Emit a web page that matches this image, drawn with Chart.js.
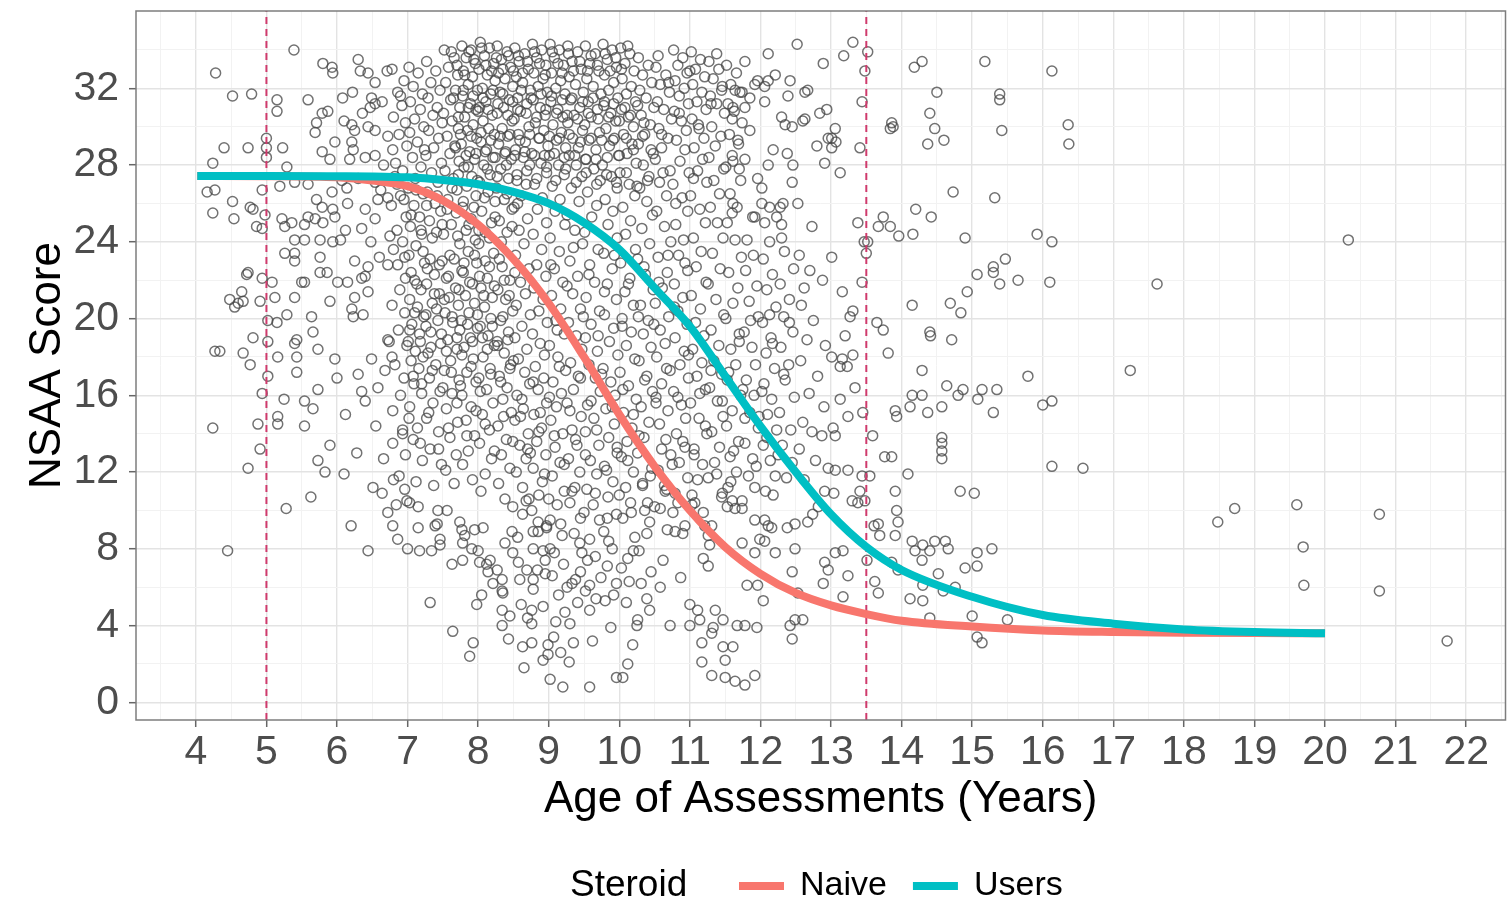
<!DOCTYPE html>
<html>
<head>
<meta charset="utf-8">
<title>NSAA Score by Age</title>
<script src="https://cdn.jsdelivr.net/npm/chart.js@4.4.1/dist/chart.umd.min.js"></script>
<style>
  html, body { margin: 0; padding: 0; background: #fff; }
</style>
</head>
<body>
<canvas id="nsaa" width="1512" height="916"></canvas>
<script>
// axis breaks
const xTickYears = [4, 5, 6, 7, 8, 9, 10, 11, 12, 13, 14, 15, 16, 17, 18, 19, 20, 21, 22];
const yTickScores = [0, 4, 8, 12, 16, 20, 24, 28, 32];
const xRange = [3.152, 22.557];
const yRange = [-0.92, 36.03];

// dashed reference ages
const cutoffAges = [5, 13.5];

// fitted curves per steroid group
const curveAges = [4.02, 5, 6, 6.5, 7, 7.5, 8, 8.5, 9, 9.5, 10, 10.5, 11, 11.5, 12, 12.5, 13, 13.5, 14, 15, 16, 17, 18, 19, 20];
const naiveFit = [27.43, 27.42, 27.36, 27.2, 26.9, 26.15, 24.9, 23.1, 20.8, 18.0, 15.0, 12.3, 10.0, 8.1, 6.7, 5.7, 5.05, 4.6, 4.25, 3.95, 3.75, 3.67, 3.63, 3.61, 3.6];
const usersFit = [27.43, 27.43, 27.42, 27.41, 27.36, 27.22, 27.0, 26.6, 26.0, 25.0, 23.6, 21.6, 19.6, 17.0, 14.4, 12.0, 9.8, 8.1, 6.9, 5.5, 4.55, 4.1, 3.8, 3.66, 3.6];
const groupNames = ['Naive', 'Users'];
const groupColors = ['#F8766D', '#00BFC4'];

// individual assessments: [age in years, NSAA score]
const assessments = [
  // 4 - 5 years
  [4.28,32.8],[4.52,31.6],[4.79,31.7],[4.4,28.9],[4.74,28.9],[4.24,28.1],[4.16,26.6],[4.27,26.7],[4.52,26.1],[4.77,25.8],
  [4.81,25.7],[4.24,25.5],[4.54,25.2],[4.94,26.7],[4.86,24.8],[4.94,24.7],[4.27,18.3],[4.34,18.3],[4.24,14.3],[4.48,21.0],
  [4.55,20.6],[4.65,21.4],[4.67,20.9],[4.74,22.4],[4.91,20.9],[4.94,22.1],[4.67,18.2],[4.77,17.6],[4.81,19.0],[4.88,14.5],
  [4.91,13.2],[4.74,12.2],[4.94,16.1],[4.45,7.9],[5.0,29.4],[5.0,28.9],[5.0,28.4],[4.98,25.4],[4.72,22.3],[4.6,20.8],
  // 5 - 6 years
  [5.15,31.4],[5.15,30.8],[5.39,34.0],[5.23,28.9],[5.29,27.9],[5.19,26.9],[5.59,31.4],[5.79,30.7],[5.87,30.8],[5.71,30.2],
  [5.69,29.7],[5.8,33.3],[5.93,33.1],[5.94,32.8],[5.02,17.0],[5.02,19.9],[5.15,19.8],[5.08,21.9],[5.12,21.1],[5.02,18.8],
  [5.16,18.0],[5.16,14.9],[5.16,14.5],[5.25,15.8],[5.43,18.0],[5.43,17.2],[5.54,15.7],[5.54,14.4],[5.66,15.3],[5.73,16.3],
  [5.73,12.6],[5.83,12.0],[5.29,20.2],[5.4,21.1],[5.43,18.9],[5.4,18.7],[5.64,20.1],[5.66,19.3],[5.73,18.4],[5.4,23.4],
  [5.4,23.0],[5.26,23.4],[5.76,23.2],[5.76,22.4],[5.86,22.4],[5.5,21.9],[5.54,21.9],[5.9,20.9],[5.28,10.1],[5.63,10.7],
  [5.97,17.9],[5.9,13.4],[5.4,27.1],[5.59,27.0],[5.71,26.2],[5.79,25.8],[5.93,26.6],[5.94,25.7],[5.79,28.7],[5.97,29.2],
  [5.9,28.3],[5.59,25.3],[5.54,24.9],[5.69,25.2],[5.8,25.0],[5.4,24.1],[5.54,24.1],[5.76,24.1],[5.94,24.0],[5.26,24.8],
  [5.36,25.0],[5.22,25.2],[5.97,25.3],
  // 6 - 6.75 years
  [6.15,26.0],[6.14,26.8],[6.07,27.2],[6.35,24.7],[6.54,25.2],[6.4,25.7],[6.21,30.1],[6.25,29.8],[6.44,30.0],[6.54,29.8],
  [6.21,29.2],[6.23,28.8],[6.4,28.4],[6.54,28.5],[6.72,29.5],[6.54,27.1],[6.72,26.3],[6.58,26.2],[6.0,16.9],[6.28,13.0],
  [6.4,15.7],[6.3,17.1],[6.49,17.9],[6.68,17.3],[6.78,18.0],[6.21,20.5],[6.23,20.1],[6.37,20.2],[6.25,21.1],[6.44,21.4],
  [6.4,22.2],[6.44,22.7],[6.35,22.1],[6.72,18.9],[6.74,18.8],[6.79,13.5],[6.72,22.8],[6.2,9.2],[6.44,7.9],[6.72,9.9],
  [6.15,21.9],[6.01,21.9],[6.3,33.5],[6.33,32.9],[6.44,32.8],[6.71,32.9],[6.54,32.3],[6.22,31.8],[6.08,31.5],[6.49,31.5],
  [6.54,31.2],[6.64,31.3],[6.47,31.0],[6.05,24.1],[6.25,23.0],[6.6,23.2],[6.12,24.6],[6.48,24.0],[6.75,24.3],[6.62,26.7],
  [6.3,27.3],[6.18,28.3],[6.66,28.0],[6.1,30.3],[6.36,30.7],[6.12,15.0],[6.55,14.4],[6.66,12.7],[6.51,11.2],[6.64,10.9],
  [6.35,16.2],[6.1,11.9],[6.58,16.4],
  // 6.75 - 7.5 years
  [6.79,28.8],[6.82,27.4],[6.93,27.7],[6.93,14.2],[6.93,14.0],[6.86,22.8],[6.96,23.2],[6.79,9.2],[6.86,8.5],[6.99,10.5],
  [6.78,33.0],[6.95,32.4],[6.86,31.8],[6.92,31.1],[6.8,30.5],[6.97,30.2],[6.88,29.6],[6.99,29.0],[6.83,28.1],[6.9,26.4],
  [6.77,25.9],[6.98,25.3],[6.85,24.6],[6.93,24.0],[6.8,23.6],[6.97,22.1],[6.89,21.5],[6.78,20.7],[6.96,20.3],[6.87,19.4],
  [6.99,18.6],[6.82,17.6],[6.95,16.9],[6.9,16.0],[6.79,15.2],[6.97,12.9],[6.88,11.8],[6.96,11.1],[6.84,10.3],[6.85,27.0],
  [6.9,31.6],[6.8,11.6],
  [7.02,33.1],[7.15,32.8],[7.08,32.1],[7.21,31.7],[7.04,31.3],[7.18,30.9],[7.1,30.4],[7.23,30.0],[7.03,29.7],[7.14,29.2],
  [7.24,28.8],[7.07,28.4],[7.19,27.9],[7.11,27.3],[7.01,26.8],[7.22,26.5],[7.09,25.9],[7.17,25.3],[7.04,24.8],[7.2,24.4],
  [7.12,23.8],[7.02,23.3],[7.24,22.9],[7.1,22.0],[7.19,21.5],[7.03,21.0],[7.14,20.6],[7.23,20.1],[7.06,19.7],[7.17,19.2],
  [7.01,18.8],[7.11,18.3],[7.22,18.0],[7.05,17.8],[7.16,17.4],[7.09,16.6],[7.2,16.1],[7.03,15.4],[7.14,14.3],[7.08,13.7],
  [7.21,12.6],[7.12,11.5],[7.03,10.4],[7.15,10.2],[7.0,8.0],[7.15,9.1],[7.17,7.9],
  [7.27,33.4],[7.4,32.9],[7.33,32.3],[7.46,31.9],[7.29,31.5],[7.42,31.0],[7.36,30.6],[7.49,30.2],[7.3,29.8],[7.44,29.4],
  [7.37,28.9],[7.26,28.5],[7.48,28.1],[7.34,27.6],[7.43,27.1],[7.28,26.6],[7.39,26.0],[7.47,25.6],[7.31,25.1],[7.41,24.5],
  [7.32,23.1],[7.49,23.0],[7.38,22.3],[7.27,21.8],[7.45,21.3],[7.35,20.8],[7.26,20.2],[7.43,19.9],[7.33,19.3],[7.47,18.7],
  [7.29,18.2],[7.4,17.6],[7.31,16.9],[7.46,16.2],[7.36,15.6],[7.27,14.8],[7.44,14.1],[7.32,13.2],[7.48,12.4],[7.37,11.3],
  [7.34,7.9],[7.42,9.3],[7.39,9.2],[7.32,5.2],[7.43,10.0],[7.46,8.5],[7.46,8.2],
  // 7.5 - 8.5 years
  [7.52,34.0],[7.66,33.6],[7.58,33.1],[7.71,32.7],[7.54,32.3],[7.68,31.9],[7.61,31.4],[7.74,31.0],[7.51,30.7],[7.63,30.3],
  [7.72,29.9],[7.56,29.5],[7.67,29.0],[7.6,28.6],[7.73,28.2],[7.53,27.7],[7.65,27.3],[7.7,26.7],[7.57,26.2],[7.69,25.5],
  [7.62,24.9],[7.51,24.4],[7.74,23.9],[7.6,23.3],[7.77,22.5],[7.55,22.1],[7.68,21.6],[7.59,21.1],[7.72,20.7],[7.53,20.3],
  [7.64,19.8],[7.74,19.4],[7.57,18.9],[7.7,18.4],[7.61,17.8],[7.52,17.3],[7.73,16.8],[7.63,16.1],[7.55,15.3],[7.71,14.6],
  [7.6,13.8],[7.69,12.9],[7.54,12.1],[7.66,11.4],[7.56,10.0],[7.63,7.2],[7.64,3.7],
  [7.77,34.2],[7.9,34.0],[7.83,33.6],[7.96,33.3],[7.79,32.9],[7.92,32.6],[7.86,32.2],[7.99,31.9],[7.78,31.6],[7.89,31.2],
  [7.97,30.9],[7.81,30.5],[7.93,30.1],[7.85,29.8],[7.98,29.4],[7.76,29.1],[7.88,28.7],[7.95,28.3],[7.8,27.9],[7.91,27.4],
  [7.84,26.9],[7.97,26.4],[7.78,25.8],[7.9,25.2],[7.83,24.6],[7.96,24.1],[7.86,23.5],[7.98,22.9],[7.79,22.4],[7.92,21.8],
  [7.82,21.2],[7.95,20.8],[7.87,20.3],[7.76,19.9],[7.99,19.5],[7.89,19.0],[7.8,18.5],[7.93,17.9],[7.84,17.2],[7.97,16.7],
  [7.77,16.0],[7.9,15.4],[7.83,14.7],[7.95,13.9],[7.86,13.1],[7.78,12.4],[7.92,11.6],[7.74,9.4],[7.77,9.0],[7.81,8.7],
  [7.95,9.0],[7.78,8.3],[7.91,8.0],[7.78,7.4],[7.93,3.1],[7.88,2.4],[7.98,5.1],
  [8.03,34.4],[8.16,34.1],[8.09,33.7],[8.22,33.3],[8.01,33.0],[8.13,32.7],[8.24,32.4],[8.06,32.0],[8.18,31.7],[8.11,31.3],
  [8.02,31.0],[8.2,30.6],[8.07,30.3],[8.15,29.9],[8.23,29.6],[8.04,29.2],[8.12,28.8],[8.21,28.4],[8.08,28.0],[8.17,27.5],
  [8.02,27.1],[8.14,26.6],[8.24,26.1],[8.05,25.6],[8.19,25.0],[8.1,24.5],[8.01,23.9],[8.22,23.4],[8.1,23.0],[8.13,22.1],
  [8.04,21.6],[8.2,21.1],[8.09,20.6],[8.18,20.0],[8.03,19.6],[8.14,19.1],[8.23,18.6],[8.07,18.0],[8.17,17.4],[8.01,16.9],
  [8.12,16.3],[8.21,15.6],[8.06,15.0],[8.16,14.2],[8.02,13.5],[8.19,12.7],[8.1,11.9],[8.04,11.0],[8.07,9.1],[8.0,7.9],
  [8.02,7.3],[8.12,7.2],[8.17,7.4],[8.14,6.8],[8.21,6.2],
  [8.27,34.2],[8.41,33.9],[8.33,33.5],[8.46,33.1],[8.29,32.8],[8.38,32.5],[8.49,32.1],[8.31,31.8],[8.44,31.4],[8.36,31.0],
  [8.27,30.7],[8.48,30.3],[8.34,29.9],[8.42,29.5],[8.29,29.1],[8.39,28.7],[8.47,28.3],[8.32,27.8],[8.43,27.3],[8.26,26.8],
  [8.37,26.2],[8.48,25.7],[8.3,25.1],[8.41,24.5],[8.34,22.7],[8.45,22.0],[8.28,21.5],[8.39,21.0],[8.49,20.4],[8.32,19.9],
  [8.43,19.3],[8.27,18.8],[8.37,18.2],[8.46,17.6],[8.3,17.0],[8.41,16.4],[8.35,15.8],[8.47,15.1],[8.28,14.4],[8.4,13.7],
  [8.33,12.9],[8.45,12.2],[8.29,11.4],[8.38,10.6],[8.34,6.4],[8.34,5.8],[8.35,5.7],[8.38,8.3],[8.48,8.9],[8.49,7.8],
  [8.49,10.2],[8.34,4.8],[8.45,4.5],[8.34,4.0],
  // 8.5 - 9.5 years
  [8.52,34.1],[8.66,33.8],[8.58,33.4],[8.71,33.0],[8.54,32.6],[8.63,32.3],[8.74,31.9],[8.56,31.5],[8.69,31.2],[8.6,30.8],
  [8.51,30.4],[8.72,30.0],[8.57,29.6],[8.67,29.2],[8.53,28.8],[8.64,28.4],[8.73,28.0],[8.55,27.5],[8.68,27.0],[8.61,26.4],
  [8.51,25.8],[8.7,25.2],[8.58,24.6],[8.65,23.9],[8.53,23.3],[8.72,22.6],[8.6,21.9],[8.67,21.3],[8.54,20.7],[8.74,20.2],
  [8.62,19.6],[8.52,19.0],[8.69,18.4],[8.57,17.9],[8.66,17.2],[8.73,16.6],[8.55,16.0],[8.64,15.3],[8.52,14.7],[8.71,14.0],
  [8.59,13.4],[8.68,12.7],[8.54,12.0],[8.63,11.2],[8.72,10.6],[8.59,6.4],[8.69,6.9],[8.63,9.8],[8.63,2.9],[8.56,8.6],
  [8.61,5.1],
  [8.77,34.3],[8.9,34.0],[8.83,33.6],[8.96,33.2],[8.79,32.8],[8.92,32.5],[8.85,32.1],[8.98,31.8],[8.78,31.4],[8.88,31.0],
  [8.95,30.6],[8.81,30.2],[8.93,29.8],[8.86,29.4],[8.99,29.0],[8.76,28.6],[8.89,28.1],[8.97,27.6],[8.8,27.0],[8.91,26.3],
  [8.84,25.7],[8.97,25.0],[8.78,24.4],[8.9,23.6],[8.83,22.8],[8.96,22.2],[8.79,21.6],[8.92,21.0],[8.86,20.4],[8.98,19.8],
  [8.77,19.2],[8.88,18.7],[8.94,18.1],[8.81,17.5],[8.93,16.9],[8.85,16.3],[8.97,15.6],[8.79,15.0],[8.9,14.3],[8.83,13.6],
  [8.96,12.9],[8.78,12.2],[8.91,11.5],[8.86,10.8],[8.76,10.0],[8.78,8.9],[8.85,8.9],[8.97,9.2],[8.97,9.1],[8.78,8.0],
  [8.92,7.9],[8.95,7.4],[8.95,6.7],[8.78,6.4],[8.78,5.9],[8.76,4.8],[8.76,4.1],[8.92,5.0],[8.76,3.1],[8.99,3.0],
  [8.99,2.5],[8.92,2.2],
  [9.02,34.3],[9.15,34.0],[9.08,33.6],[9.21,33.2],[9.04,32.8],[9.17,32.4],[9.1,32.0],[9.23,31.7],[9.03,31.3],[9.13,30.9],
  [9.2,30.5],[9.06,30.1],[9.18,29.7],[9.11,29.3],[9.24,28.9],[9.01,28.5],[9.14,28.0],[9.22,27.5],[9.05,26.9],[9.16,26.2],
  [9.09,25.6],[9.23,24.9],[9.02,24.2],[9.15,23.5],[9.08,22.6],[9.2,21.9],[9.04,21.2],[9.17,20.5],[9.1,19.9],[9.22,19.2],
  [9.01,18.6],[9.13,18.0],[9.24,17.3],[9.06,16.7],[9.18,16.1],[9.11,15.4],[9.03,14.7],[9.2,14.0],[9.09,13.3],[9.16,12.5],
  [9.05,11.8],[9.22,11.0],[9.12,10.3],[9.02,9.5],[9.19,8.7],[9.08,7.8],[9.02,8.0],[9.02,1.2],[9.2,0.8],[9.14,5.6],
  [9.23,4.7],[9.07,3.4],[9.17,2.6],
  [9.27,34.2],[9.41,33.9],[9.33,33.4],[9.46,33.0],[9.29,32.6],[9.38,32.2],[9.49,31.8],[9.31,31.4],[9.44,31.0],[9.36,30.6],
  [9.27,30.2],[9.48,29.8],[9.34,29.4],[9.42,28.9],[9.29,28.5],[9.39,28.0],[9.47,27.4],[9.32,26.8],[9.43,26.1],[9.26,25.4],
  [9.37,24.6],[9.48,23.9],[9.3,23.0],[9.41,22.2],[9.34,21.3],[9.45,20.5],[9.28,19.8],[9.39,19.1],[9.47,18.4],[9.31,17.7],
  [9.42,17.0],[9.35,16.3],[9.26,15.6],[9.46,14.9],[9.33,14.2],[9.4,13.4],[9.28,12.7],[9.44,12.0],[9.37,11.2],[9.3,10.4],
  [9.45,9.6],[9.36,8.8],[9.47,7.8],[9.3,4.1],[9.26,6.0],[9.33,6.2],[9.41,5.2],[9.29,2.1],
  // 9.5 - 10.5 years
  [9.52,34.2],[9.66,33.8],[9.58,33.3],[9.71,32.9],[9.54,32.5],[9.63,32.1],[9.74,31.7],[9.56,31.3],[9.69,30.9],[9.6,30.5],
  [9.51,30.1],[9.72,29.7],[9.57,29.3],[9.67,28.8],[9.53,28.3],[9.64,27.8],[9.73,27.2],[9.55,26.6],[9.68,25.9],[9.61,25.3],
  [9.51,24.5],[9.7,23.6],[9.58,22.8],[9.65,21.9],[9.53,21.1],[9.72,20.4],[9.6,19.7],[9.52,19.0],[9.69,18.3],[9.57,17.6],
  [9.66,16.9],[9.73,16.2],[9.55,15.5],[9.64,14.8],[9.52,14.1],[9.71,13.4],[9.59,12.6],[9.68,11.9],[9.54,11.1],[9.63,10.3],
  [9.72,9.5],[9.58,8.5],[9.55,7.4],[9.58,6.1],[9.58,4.8],[9.58,0.8],[9.67,5.4],[9.62,3.2],
  [9.77,34.3],[9.9,34.0],[9.83,33.5],[9.96,33.1],[9.79,32.7],[9.92,32.3],[9.85,31.9],[9.98,31.5],[9.78,31.1],[9.88,30.7],
  [9.95,30.3],[9.81,29.9],[9.93,29.4],[9.86,29.0],[9.99,28.5],[9.76,28.0],[9.89,27.4],[9.97,26.8],[9.8,26.2],[9.91,25.6],
  [9.84,24.9],[9.97,24.2],[9.78,23.4],[9.9,22.6],[9.83,21.8],[9.96,21.0],[9.79,20.2],[9.92,19.5],[9.86,18.8],[9.98,18.1],
  [9.77,17.4],[9.88,16.7],[9.94,16.0],[9.81,15.3],[9.93,14.5],[9.85,13.8],[9.97,13.0],[9.79,12.3],[9.91,11.5],[9.84,10.7],
  [9.96,9.8],[9.78,8.9],[9.9,8.0],[9.83,7.1],[9.96,6.2],[9.8,5.3],[9.96,1.3],[9.88,3.9],
  [10.02,34.1],[10.15,33.8],[10.08,33.3],[10.21,32.9],[10.04,32.5],[10.17,32.1],[10.1,31.7],[10.23,31.3],[10.03,30.9],[10.13,30.5],
  [10.2,30.0],[10.06,29.6],[10.18,29.1],[10.11,28.6],[10.24,28.1],[10.01,27.6],[10.14,27.0],[10.22,26.4],[10.05,25.8],[10.16,25.1],
  [10.09,24.4],[10.23,23.6],[10.02,22.9],[10.15,22.1],[10.08,21.4],[10.2,20.7],[10.04,20.0],[10.17,19.3],[10.1,18.6],[10.22,17.9],
  [10.01,17.2],[10.13,16.5],[10.24,15.8],[10.06,15.1],[10.18,14.3],[10.11,13.6],[10.03,12.8],[10.2,12.0],[10.09,11.2],[10.16,10.4],
  [10.05,9.6],[10.22,8.6],[10.12,7.5],[10.05,1.3],[10.12,2.0],[10.19,3.0],[10.25,4.0],[10.14,6.3],
  [10.27,33.6],[10.41,33.2],[10.33,32.7],[10.46,32.3],[10.29,31.9],[10.38,31.5],[10.49,31.0],[10.31,30.6],[10.44,30.1],[10.36,29.6],
  [10.27,29.1],[10.48,28.6],[10.34,28.0],[10.42,27.4],[10.29,26.8],[10.39,26.1],[10.47,25.4],[10.32,24.7],[10.43,23.9],[10.26,23.1],
  [10.37,22.3],[10.48,21.5],[10.3,20.7],[10.41,19.9],[10.34,19.2],[10.45,18.5],[10.28,17.8],[10.39,17.0],[10.47,16.2],[10.31,15.4],
  [10.42,14.6],[10.35,13.8],[10.26,13.0],[10.46,12.2],[10.33,11.3],[10.4,10.4],[10.36,10.0],[10.43,9.4],[10.39,5.4],[10.43,4.8],
  [10.26,4.3],[10.28,7.9],[10.45,6.8],
  // 10.5 - 11.5 years
  [10.52,33.1],[10.66,32.7],[10.58,32.2],[10.71,31.8],[10.54,31.3],[10.63,30.9],[10.74,30.4],[10.56,29.9],[10.69,29.4],[10.6,28.9],
  [10.51,28.3],[10.72,27.7],[10.57,27.1],[10.67,26.4],[10.53,25.6],[10.64,24.8],[10.73,24.0],[10.55,23.2],[10.68,22.4],[10.61,21.6],
  [10.51,20.8],[10.7,20.1],[10.58,19.4],[10.65,18.7],[10.53,18.0],[10.72,17.3],[10.6,16.6],[10.52,15.9],[10.69,15.2],[10.57,14.5],
  [10.66,13.7],[10.73,12.9],[10.55,12.1],[10.64,11.3],[10.65,11.0],[10.58,10.1],[10.76,9.9],[10.68,9.0],[10.72,4.0],[10.58,6.0],
  [10.62,7.4],
  [10.77,34.0],[10.9,33.6],[10.83,33.2],[10.96,32.8],[10.79,32.4],[10.92,32.0],[10.85,31.6],[10.98,31.2],[10.78,30.8],[10.88,30.3],
  [10.95,29.8],[10.81,29.3],[10.93,28.8],[10.86,28.2],[10.99,27.6],[10.76,27.0],[10.89,26.3],[10.97,25.6],[10.8,24.9],[10.91,24.1],
  [10.84,23.3],[10.97,22.5],[10.78,21.8],[10.9,21.1],[10.83,20.4],[10.96,19.7],[10.79,19.0],[10.92,18.3],[10.86,17.6],[10.98,16.9],
  [10.77,16.2],[10.88,15.5],[10.94,14.8],[10.81,14.0],[10.93,13.3],[10.85,12.5],[10.97,11.7],[10.79,10.9],[10.9,8.8],[10.79,8.9],
  [10.93,9.2],[11.0,4.0],[11.0,5.1],[10.87,6.5],
  [11.02,33.9],[11.15,33.5],[11.08,33.0],[11.21,32.6],[11.04,32.2],[11.17,31.8],[11.1,31.3],[11.23,30.9],[11.03,30.4],[11.13,29.9],
  [11.2,29.4],[11.06,28.9],[11.18,28.3],[11.11,27.7],[11.24,27.1],[11.01,26.4],[11.14,25.7],[11.22,25.0],[11.05,24.2],[11.16,23.5],
  [11.09,22.7],[11.23,21.9],[11.02,21.2],[11.15,20.5],[11.08,19.8],[11.2,19.1],[11.04,18.4],[11.17,17.7],[11.1,17.0],[11.22,16.3],
  [11.01,15.6],[11.13,14.8],[11.24,14.0],[11.06,13.2],[11.18,12.4],[11.11,11.6],[11.03,10.8],[11.07,10.4],[11.03,10.3],[11.19,9.9],
  [11.19,7.5],[11.11,4.8],[11.14,4.3],[11.17,3.1],[11.17,2.1],[11.21,9.2],
  [11.27,33.4],[11.41,33.0],[11.33,32.5],[11.46,32.1],[11.29,31.6],[11.38,31.2],[11.49,30.7],[11.31,30.0],[11.44,29.5],[11.36,29.0],
  [11.27,28.4],[11.48,27.8],[11.34,27.2],[11.42,26.5],[11.29,25.8],[11.39,25.0],[11.47,24.2],[11.32,23.4],[11.43,22.6],[11.26,21.8],
  [11.37,21.0],[11.48,20.2],[11.3,19.4],[11.41,18.6],[11.34,17.8],[11.45,17.1],[11.28,16.4],[11.39,15.7],[11.47,14.9],[11.31,14.1],
  [11.42,13.3],[11.35,12.5],[11.26,11.7],[11.46,10.9],[11.26,7.1],[11.28,8.2],[11.31,9.2],[11.26,8.7],[11.36,4.8],[11.33,3.9],
  [11.47,4.3],[11.31,3.6],[11.47,2.9],[11.31,1.4],[11.45,10.7],
  // 11.5 - 12.5 years
  [11.52,33.2],[11.66,32.8],[11.58,32.2],[11.71,31.8],[11.54,31.2],[11.63,30.8],[11.74,30.2],[11.56,29.6],[11.69,29.1],[11.6,28.5],
  [11.51,27.9],[11.72,27.2],[11.57,26.5],[11.67,25.8],[11.53,25.0],[11.64,24.1],[11.73,23.2],[11.55,22.4],[11.68,21.6],[11.61,20.8],
  [11.51,20.0],[11.7,19.2],[11.58,18.4],[11.65,17.6],[11.53,16.8],[11.72,16.0],[11.6,15.2],[11.52,14.4],[11.69,13.6],[11.57,12.8],
  [11.66,12.0],[11.54,11.2],[11.6,10.5],[11.64,10.1],[11.74,10.1],[11.53,10.2],[11.74,10.5],[11.74,8.3],[11.67,4.0],[11.61,2.9],
  [11.5,2.2],[11.5,1.3],[11.64,1.1],[11.6,25.5],[11.61,26.0],[11.61,31.0],[11.6,30.4],[11.68,29.3],[11.61,28.2],[11.7,27.8],
  [11.78,33.4],[11.92,32.2],[11.96,32.4],[11.85,31.5],[11.78,31.0],[11.85,29.8],[11.78,28.3],[11.96,27.3],[11.92,25.3],[11.89,25.3],
  [11.81,24.1],[11.9,23.3],[11.79,22.5],[11.95,21.7],[11.84,20.9],[11.97,20.1],[11.77,19.3],[11.88,18.5],[11.93,17.6],[11.8,16.8],
  [11.91,16.0],[11.85,15.1],[11.97,14.3],[11.78,13.5],[11.89,12.7],[11.83,11.8],[11.92,11.2],[11.92,9.5],[11.92,7.8],[11.99,8.5],
  [11.81,6.1],[11.96,6.1],[11.78,4.0],[11.95,3.9],[11.78,0.9],[11.92,1.4],[11.74,31.8],[11.64,31.9],[11.45,31.9],
  [12.11,33.8],[12.11,32.4],[12.06,32.1],[12.21,32.7],[12.06,31.3],[12.02,26.8],[12.02,26.0],[12.13,25.8],[12.06,25.0],[12.13,24.0],
  [12.11,28.0],[12.18,28.8],[12.23,25.3],[12.04,23.1],[12.17,22.3],[12.09,21.5],[12.22,20.6],[12.03,19.8],[12.15,19.0],[12.08,18.2],
  [12.2,17.4],[12.05,16.6],[12.16,15.8],[12.1,15.0],[12.23,14.2],[12.04,13.4],[12.14,12.6],[12.21,11.8],[12.07,11.0],[12.18,10.8],
  [12.11,9.2],[12.16,9.1],[12.06,9.5],[12.21,7.8],[12.06,8.4],[12.04,5.3],
  [12.3,30.5],[12.35,30.1],[12.45,30.0],[12.38,28.6],[12.46,28.0],[12.45,27.1],[12.32,26.0],[12.28,25.8],[12.3,24.9],[12.3,24.2],
  [12.42,32.4],[12.39,31.6],[12.34,23.5],[12.47,22.6],[12.28,21.8],[12.41,21.0],[12.33,20.1],[12.46,19.3],[12.29,18.5],[12.4,17.6],
  [12.35,16.8],[12.48,15.9],[12.27,15.1],[12.43,14.2],[12.31,13.4],[12.45,12.5],[12.37,11.7],[12.49,9.3],[12.38,9.1],[12.49,8.0],
  [12.45,6.8],[12.49,4.3],[12.45,3.3],[12.42,4.0],
  // 12.5 - 13.5 years
  [12.52,34.3],[12.89,33.3],[12.63,30.4],[12.6,30.3],[12.84,30.7],[12.94,30.9],[12.53,26.0],[12.63,31.8],[12.67,31.9],[12.73,24.8],
  [12.91,28.1],[12.8,29.0],[12.96,29.4],[12.55,23.3],[12.7,22.5],[12.62,21.6],[12.88,22.0],[12.58,20.7],[12.75,19.9],[12.66,18.9],
  [12.92,18.6],[12.57,17.8],[12.81,17.0],[12.69,16.1],[12.9,15.4],[12.6,14.6],[12.73,14.1],[12.87,13.9],[12.55,13.2],[12.78,12.6],
  [12.96,12.2],[12.62,11.6],[12.91,11.0],[12.67,9.4],[12.74,9.8],[12.82,10.2],[12.91,7.3],[12.96,6.9],[12.89,6.2],[12.6,4.3],
  [12.53,5.7],
  [13.31,34.4],[13.18,33.7],[13.48,32.9],[13.06,29.9],[13.01,29.4],[13.07,29.2],[13.01,28.9],[13.13,27.6],[13.44,31.3],[13.41,28.9],
  [13.38,25.0],[13.01,23.2],[13.5,23.4],[13.16,21.4],[13.44,21.9],[13.31,20.4],[13.27,20.1],[13.2,19.1],[13.31,18.1],[13.16,17.9],
  [13.01,18.0],[13.23,17.5],[13.13,17.5],[13.34,16.4],[13.13,15.8],[13.24,14.9],[13.45,15.1],[13.03,14.3],[13.06,13.9],[13.06,12.1],
  [13.24,12.1],[13.44,11.8],[13.41,11.0],[13.3,10.5],[13.38,10.4],[13.48,10.5],[13.06,7.8],[13.17,7.9],[13.24,6.6],[13.17,5.5],
  [13.04,10.9],[13.47,24.0],
  // 13.5 years and older
  [13.52,33.9],[13.86,30.2],[13.84,29.9],[13.88,30.0],[14.18,33.1],[14.29,33.4],[15.18,33.4],[16.13,32.9],[14.5,31.8],[15.39,31.7],
  [15.39,31.4],[14.4,30.7],[15.42,29.8],[14.47,29.9],[14.37,29.1],[14.6,29.3],[14.73,26.6],[15.32,26.3],[14.2,25.7],[14.42,25.3],
  [13.96,24.3],[14.16,24.4],[14.9,24.2],[15.92,24.4],[16.13,24.0],[13.74,25.3],[13.84,24.8],[13.67,24.8],[13.52,24.0],
  [15.47,23.1],[15.3,22.7],[15.3,22.4],[15.39,21.8],[15.07,22.3],[14.93,21.4],[15.65,22.0],[16.1,21.9],[14.69,20.8],[14.84,20.3],
  [14.15,20.7],[14.4,19.3],[14.41,19.1],[14.71,18.9],[13.65,19.8],[13.74,19.4],[13.81,18.2],[14.29,17.3],[15.79,17.0],[14.64,16.5],
  [14.87,16.3],[14.8,16.0],[15.14,16.3],[15.35,16.3],[15.08,15.8],[14.15,16.0],[14.29,16.0],[14.12,15.4],[14.37,15.1],[14.57,15.4],
  [15.3,15.1],[16.0,15.5],[16.13,15.7],[13.91,15.2],[13.93,14.9],[14.57,13.8],[14.57,13.5],[14.57,13.1],[14.57,12.7],[13.76,12.8],
  [13.86,12.8],[14.09,11.9],[16.13,12.3],[13.59,13.9],[17.62,21.8],[17.24,17.3],[16.57,12.2],[16.36,30.1],[16.37,29.1],[20.33,24.1],
  [14.83,11.0],[15.03,10.9],[13.91,11.0],[13.93,10.0],[13.95,9.4],[13.91,8.7],[13.69,8.7],[13.67,9.3],[13.61,9.2],[14.15,8.4],
  [14.3,8.2],[14.47,8.4],[14.62,8.4],[14.66,8.0],[14.19,7.9],[14.4,7.9],[14.29,7.4],[13.86,7.3],[13.95,6.9],[14.52,6.7],
  [14.3,6.1],[14.59,5.8],[14.76,6.0],[14.12,5.4],[14.3,5.3],[14.9,7.0],[15.07,7.1],[15.07,7.8],[15.28,8.0],[15.0,4.5],
  [15.5,4.3],[15.07,3.4],[15.14,3.1],[14.4,4.4],[13.51,7.4],[13.62,6.3],[13.67,5.7],[13.55,11.8],
  [18.48,9.4],[18.72,10.1],[19.6,10.3],[19.69,8.1],[19.7,6.1],[20.77,9.8],[20.77,5.8],[21.73,3.2],
  // crowded top band, 7.6 - 11.4 years
  [7.62,33.9],[7.7,33.2],[7.81,32.7],[7.87,33.9],[7.94,33.5],[8.05,34.1],[8.11,33.2],[8.19,32.9],[8.26,33.6],[8.35,33.0],
  [8.43,33.7],[8.5,32.9],[8.57,33.7],[8.63,32.8],[8.7,33.4],[8.8,33.9],[8.87,33.3],[8.95,32.7],[9.05,33.9],[9.13,33.3],
  [9.19,32.8],[9.28,33.8],[9.35,32.9],[9.44,33.4],[9.55,32.9],[9.6,33.7],[9.69,33.2],[9.8,33.8],[9.87,32.9],[9.95,33.6],
  [10.03,33.0],[10.12,34.2],
  [7.65,31.5],[7.72,30.5],[7.79,31.9],[7.86,31.0],[7.93,31.6],[8.0,30.8],[8.07,31.5],[8.14,30.9],[8.21,31.9],[8.28,31.2],
  [8.35,31.7],[8.42,30.6],[8.49,31.3],[8.56,30.9],[8.61,31.9],[8.68,30.7],[8.75,31.5],[8.83,30.5],[8.89,31.7],[8.96,30.9],
  [9.04,31.6],[9.11,30.7],[9.19,31.4],[9.26,30.6],[9.33,31.5],[9.41,30.4],[9.48,31.3],[9.56,30.7],[9.63,31.5],[9.7,30.4],
  [9.79,31.3],[9.85,30.5],[9.92,31.2],[10.0,30.3],[10.08,31.0],[10.16,30.6],[10.26,31.1],[10.35,30.2],
  [7.68,28.9],[7.75,29.6],[7.83,28.5],[7.9,29.5],[7.97,28.6],[8.04,29.7],[8.1,28.7],[8.18,29.3],[8.24,28.4],[8.31,29.5],
  [8.38,28.6],[8.45,29.6],[8.52,28.5],[8.59,29.3],[8.66,28.7],[8.73,29.6],[8.8,28.5],[8.87,29.4],[8.94,28.5],[9.01,29.5],
  [9.08,28.6],[9.15,29.4],[9.22,28.4],[9.29,29.6],[9.37,28.5],[9.45,29.2],[9.52,28.3],[9.6,29.4],[9.67,28.3],[9.75,29.3],
  [9.83,28.4],[9.91,29.3],[10.0,28.5],[10.1,29.4],[10.2,28.8],[10.33,29.5],[10.45,28.8],[10.6,29.6],
  [7.72,27.5],[7.86,27.9],[7.99,27.2],[8.13,27.8],[8.27,27.4],[8.4,28.0],[8.55,27.2],[8.69,27.7],[8.83,27.3],[8.97,27.9],
  [9.1,27.2],[9.24,27.8],[9.39,27.1],[9.53,27.6],[9.68,27.0],[9.82,27.5],[9.96,27.1],[10.1,27.6],[10.25,26.9],[10.4,27.2],
  [10.55,33.7],[10.7,32.3],[10.85,30.7],[11.0,32.9],[11.12,30.1],[11.3,31.2],[11.38,33.8],[10.62,27.6],[10.8,26.0],[11.05,27.3],
  // crowded middle band, 6.9 - 8.6 years
  [7.05,22.4],[7.13,21.8],[7.22,23.5],[7.28,22.6],[7.38,21.3],[7.45,22.8],[7.52,21.0],[7.58,22.2],[7.66,23.1],[7.73,21.5],
  [7.8,22.9],[7.88,21.9],[7.95,23.3],[8.02,22.2],[8.08,21.2],[8.16,22.7],[8.23,21.7],[8.3,23.1],[8.37,22.0],[8.44,21.2],
  [8.52,22.4],
  [7.03,19.4],[7.1,20.3],[7.18,18.8],[7.26,19.6],[7.33,18.5],[7.41,20.5],[7.48,19.2],[7.55,18.3],[7.63,20.1],[7.7,19.0],
  [7.77,18.1],[7.85,19.7],[7.92,18.8],[7.99,20.2],[8.06,19.0],[8.13,18.4],[8.2,19.6],[8.28,18.6],[8.35,20.1],[8.42,18.9],
  [8.5,17.8],
  [7.08,17.0],[7.2,16.6],[7.35,17.3],[7.5,16.4],[7.62,17.2],[7.75,16.5],[7.9,17.5],[8.03,16.2],[8.18,17.1],[8.32,16.7],
  [8.45,17.4],
  [6.95,26.2],[7.05,25.4],[7.12,26.7],[7.19,24.6],[7.27,25.9],[7.35,24.2],[7.42,26.4],[7.49,24.9],[7.56,25.7],[7.63,26.8],
  [7.71,24.3],[7.79,26.1],[7.87,24.9],[7.94,25.8],[8.01,24.6],[8.09,26.3],[8.16,24.2],[8.24,25.3],[8.33,24.0],[8.41,26.5],
  [8.48,24.8],[8.56,26.0],
  [7.02,14.8],[7.18,13.5],[7.3,15.1],[7.44,13.2],[7.58,14.3],[7.7,15.6],[7.84,13.9],[7.97,15.2],[8.1,14.5],[8.23,13.1],
  [8.36,14.9],[8.49,13.6],[8.6,14.9],[8.74,13.0],[8.88,15.1],
  // crowded lower band, 8.6 - 12.5 years
  [8.62,15.8],[8.7,13.2],[8.78,16.7],[8.86,14.1],[8.94,11.9],[9.01,15.9],[9.08,13.9],[9.15,17.5],[9.22,12.4],[9.3,15.2],
  [9.38,13.7],[9.45,16.9],[9.52,12.9],[9.6,15.7],[9.68,14.2],[9.75,17.1],[9.82,12.1],[9.9,15.4],[9.97,13.3],[10.05,16.3],
  [10.12,12.6],[10.2,15.0],[10.28,13.9],[10.36,16.8],[10.44,11.8],[10.52,15.6],[10.6,13.2],[10.67,17.4],[10.75,12.4],[10.83,15.9],
  [10.9,13.6],[10.98,18.1],[11.06,12.9],[11.14,16.1],[11.22,14.4],[11.3,17.3],[11.38,11.9],[11.46,15.7],
  [8.68,10.5],[8.85,9.4],[9.0,10.6],[9.17,9.3],[9.33,11.0],[9.5,9.9],[9.66,10.9],[9.83,9.6],[10.0,10.8],[10.17,9.9],
  [10.33,11.4],[10.5,10.2],[10.67,11.1],[10.83,10.4],
  [9.05,6.6],[9.21,7.2],[9.38,6.4],[9.44,8.3],[9.52,5.8],[9.66,7.6],[9.74,6.5],[9.85,8.4],[9.92,5.6],[10.03,7.0],
  [10.1,5.2],[10.2,7.9],[10.31,6.2],[10.39,8.8],
  [9.03,22.8],[9.12,19.4],[9.26,21.7],[9.35,23.7],[9.49,20.1],[9.57,22.3],[9.7,19.1],[9.79,21.4],[9.93,23.3],[10.04,19.6],
  [10.13,21.8],[10.27,20.1],[10.35,22.7],[10.49,19.7],[10.56,21.9],[10.69,23.3],[10.78,20.6],[10.93,22.9],
  [11.55,17.2],[11.62,13.1],[11.7,18.8],[11.78,14.8],[11.86,19.9],[11.94,12.3],[12.02,16.2],[12.09,13.8],[12.17,18.7],[12.25,12.9],
  [12.33,17.1],[12.41,19.8],[11.58,11.5],[11.75,16.3],[11.98,14.9],[12.13,20.2],
  [8.05,5.6],[8.27,6.9],[8.43,3.3],[8.57,7.3],[8.7,4.4],[8.84,6.9],[9.1,4.2],[9.35,3.1],[9.45,6.8],[8.65,1.8]
];

const FONT = '"Liberation Sans", Arial, Helvetica, sans-serif';

// half-year / two-point minor breaks between the labelled ones
const xBreaks = [];
xTickYears.forEach(function(y) { xBreaks.push(y - 0.5, y); });
xBreaks.push(xTickYears[xTickYears.length - 1] + 0.5);
const yBreaks = [];
yTickScores.forEach(function(s) { yBreaks.push(s, s + 2); });

let datasets = [];

// fitted curves go on top
[naiveFit, usersFit].forEach(function(fit, i) {
    datasets.push({
        type: 'line',
        label: groupNames[i],
        fitLine: true,
        data: curveAges.map(function(a, j) { return { x: a, y: fit[j] }; }),
        borderColor: groupColors[i],
        borderWidth: 8,
        borderCapStyle: 'butt',
        pointRadius: 0,
        cubicInterpolationMode: 'monotone',
        fill: false,
        order: 2 - i
    });
});

cutoffAges.forEach(function(a) {
    datasets.push({
        type: 'line',
        label: 'cutoff ' + a,
        data: [{ x: a, y: yRange[0] }, { x: a, y: yRange[1] }],
        borderColor: '#CF3A6C',
        borderWidth: 2,
        borderDash: [7, 5],
        pointRadius: 0,
        fill: false,
        order: 3
    });
});

datasets.push({
    type: 'scatter',
    label: 'assessments',
    data: assessments.map(function(p) { return { x: p[0], y: p[1] }; }),
    pointStyle: 'circle',
    pointRadius: 5,
    pointHoverRadius: 5,
    borderWidth: 1.5,
    borderColor: 'rgba(70,70,70,0.76)',
    backgroundColor: 'rgba(0,0,0,0)',
    order: 4
});

// panel outline drawn over the data like a ggplot border
const panelFrame = {
    id: 'panelFrame',
    afterDatasetsDraw(chart) {
        const a = chart.chartArea;
        const ctx = chart.ctx;
        ctx.save();
        ctx.strokeStyle = '#7d7d7d';
        ctx.lineWidth = 1.5;
        ctx.strokeRect(a.left, a.top, a.right - a.left, a.bottom - a.top);
        ctx.restore();
    }
};

// bottom legend: "Steroid" title followed by line keys
const steroidLegend = {
    id: 'steroidLegend',
    afterDraw(chart) {
        const ctx = chart.ctx;
        const y = 886;
        ctx.save();
        ctx.textBaseline = 'middle';
        ctx.fillStyle = '#000';
        ctx.font = '37px ' + FONT;
        ctx.fillText('Steroid', 570, y);
        ctx.font = '34px ' + FONT;
        let x = 739;
        chart.data.datasets.filter(function(d) { return d.fitLine; }).forEach(function(d) {
            ctx.strokeStyle = d.borderColor;
            ctx.lineWidth = 8;
            ctx.beginPath();
            ctx.moveTo(x, y);
            ctx.lineTo(x + 45, y);
            ctx.stroke();
            ctx.fillText(d.label, x + 61, y);
            x += 61 + ctx.measureText(d.label).width + 26;
        });
        ctx.restore();
    }
};

new Chart(document.getElementById('nsaa'), {
    type: 'scatter',
    data: { datasets: datasets },
    plugins: [panelFrame, steroidLegend],
    options: {
        responsive: false,
        devicePixelRatio: 1,
        animation: false,
        events: [],
        layout: { padding: { left: 0, top: 11, right: 6, bottom: 90 } },
        plugins: {
            legend: { display: false },
            tooltip: { enabled: false }
        },
        scales: {
            x: {
                type: 'linear',
                min: xRange[0],
                max: xRange[1],
                afterBuildTicks: function(s) { s.ticks = xBreaks.map(function(v) { return { value: v }; }); },
                afterFit: function(s) { s.height = 106; s.paddingLeft = 0; s.paddingRight = 0; },
                border: { display: false },
                grid: {
                    color: function(c) { return c.tick && Number.isInteger(c.tick.value) ? '#E3E3E3' : '#F2F2F2'; },
                    lineWidth: function(c) { return c.tick && Number.isInteger(c.tick.value) ? 1.4 : 1; },
                    tickColor: function(c) { return c.tick && Number.isInteger(c.tick.value) ? '#666' : 'rgba(0,0,0,0)'; },
                    tickLength: 7,
                    tickWidth: 1.5
                },
                ticks: {
                    autoSkip: false,
                    maxRotation: 0,
                    padding: 1,
                    color: '#4D4D4D',
                    font: { family: FONT, size: 41 },
                    callback: function(v) { return Number.isInteger(v) ? String(v) : ''; }
                },
                title: {
                    display: true,
                    text: 'Age of Assessments (Years)',
                    color: '#000',
                    font: { family: FONT, size: 44 },
                    padding: { top: 0, bottom: 0 }
                }
            },
            y: {
                type: 'linear',
                min: yRange[0],
                max: yRange[1],
                afterBuildTicks: function(s) { s.ticks = yBreaks.map(function(v) { return { value: v }; }); },
                afterFit: function(s) { s.width = 136; s.paddingTop = 0; s.paddingBottom = 0; },
                border: { display: false },
                grid: {
                    color: function(c) { return c.tick && c.tick.value % 4 === 0 ? '#E3E3E3' : '#F2F2F2'; },
                    lineWidth: function(c) { return c.tick && c.tick.value % 4 === 0 ? 1.4 : 1; },
                    tickColor: function(c) { return c.tick && c.tick.value % 4 === 0 ? '#666' : 'rgba(0,0,0,0)'; },
                    tickLength: 7,
                    tickWidth: 1.5
                },
                ticks: {
                    autoSkip: false,
                    padding: 10,
                    color: '#4D4D4D',
                    font: { family: FONT, size: 41 },
                    callback: function(v) { return v % 4 === 0 ? String(v) : ''; }
                },
                title: {
                    display: true,
                    text: 'NSAA Score',
                    color: '#000',
                    font: { family: FONT, size: 44 },
                    padding: { top: 21, bottom: 0 }
                }
            }
        }
    }
});
</script>
</body>
</html>
